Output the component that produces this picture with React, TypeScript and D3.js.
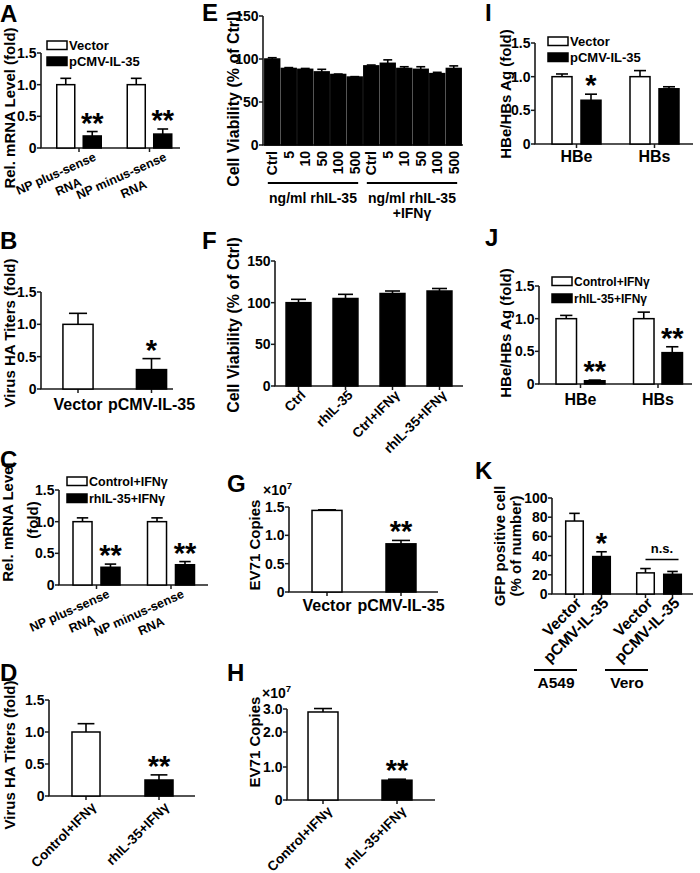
import React from "react";
import * as d3 from "d3";

const FONT = "'Liberation Sans', Arial, Helvetica, sans-serif";
const AX = "#1a1a1a";

// ===================== DATA =====================
// Panel A
const aCategories = [["NP plus-sense", "RNA"], ["NP minus-sense", "RNA"]];
const aSeries = ["Vector", "pCMV-IL-35"];
const aVector = [1.0, 1.0];
const aVectorErr = [0.1, 0.1];
const aIL35 = [0.19, 0.22];
const aIL35Err = [0.07, 0.08];
const aVectorStars = ["", ""];
const aIL35Stars = ["**", "**"];
const foldTicks = [0, 0.5, 1.0, 1.5];

// Panel B
const bCategories = ["Vector", "pCMV-IL-35"];
const bValues = [1.0, 0.3];
const bErrors = [0.17, 0.17];
const bStars = ["", "*"];

// Panel C
const cCategories = [["NP plus-sense", "RNA"], ["NP minus-sense", "RNA"]];
const cSeries = ["Control+IFNγ", "rhIL-35+IFNγ"];
const cControl = [1.0, 1.0];
const cControlErr = [0.06, 0.06];
const cIL35 = [0.28, 0.32];
const cIL35Err = [0.05, 0.05];
const cControlStars = ["", ""];
const cIL35Stars = ["**", "**"];

// Panel D
const dCategories = ["Control+IFNγ", "rhIL-35+IFNγ"];
const dValues = [1.0, 0.25];
const dErrors = [0.13, 0.08];
const dStars = ["", "**"];

// Panel E
const eDoses = ["Ctrl", "5", "10", "50", "100", "500"];
const eGroups = [["ng/ml rhIL-35"], ["ng/ml rhIL-35", "+IFNγ"]];
const eRhIL35 = [100, 89, 88, 85, 82, 79];
const eRhIL35Err = [1.5, 1, 1, 3, 0.5, 0.5];
const eRhIL35IFN = [92, 95, 89, 88, 83, 89];
const eRhIL35IFNErr = [1, 4, 2, 3, 1.5, 3];
const viabilityTicks = [0, 50, 100, 150];

// Panel F
const fCategories = ["Ctrl", "rhIL-35", "Ctrl+IFNγ", "rhIL-35+IFNγ"];
const fValues = [100, 105, 111, 114];
const fErrors = [4, 5, 3, 3];

// Panel G
const gCategories = ["Vector", "pCMV-IL-35"];
const gValues = [1.44, 0.85];
const gErrors = [0.01, 0.06];
const gStars = ["", "**"];
const gTicks = [0, 0.5, 1.0, 1.5];

// Panel H
const hCategories = ["Control+IFNγ", "rhIL-35+IFNγ"];
const hValues = [2.87, 0.6];
const hErrors = [0.15, 0.03];
const hStars = ["", "**"];
const hTicks = [0, 1.0, 2.0, 3.0];

// Panel I
const iCategories = ["HBe", "HBs"];
const iSeries = ["Vector", "pCMV-IL-35"];
const iVector = [1.0, 1.0];
const iVectorErr = [0.04, 0.09];
const iIL35 = [0.65, 0.82];
const iIL35Err = [0.09, 0.03];
const iVectorStars = ["", ""];
const iIL35Stars = ["*", ""];

// Panel J
const jCategories = ["HBe", "HBs"];
const jSeries = ["Control+IFNγ", "rhIL-35+IFNγ"];
const jControl = [1.0, 1.0];
const jControlErr = [0.05, 0.1];
const jIL35 = [0.05, 0.48];
const jIL35Err = [0.01, 0.09];
const jControlStars = ["", ""];
const jIL35Stars = ["**", "**"];

// Panel K
const kCells = ["A549", "Vero"];
const kSeries = ["Vector", "pCMV-IL-35"];
const kVector = [76, 22];
const kVectorErr = [8, 4.5];
const kIL35 = [39, 20.5];
const kIL35Err = [5, 3];
const kVectorStars = ["", ""];
const kIL35Stars = ["*", ""];
const kNote = "n.s.";
const kTicks = [0, 20, 40, 60, 80, 100];

// ===================== HELPERS =====================
type BarD = { cx: number; w: number; v: number; e: number; fill: string; star?: string };

let _ctx: CanvasRenderingContext2D | null = null;
function measure(text: string, size: number) {
  if (!_ctx && typeof document !== "undefined") _ctx = document.createElement("canvas").getContext("2d");
  if (!_ctx) return text.length * size * 0.6;
  _ctx.font = `bold ${size}px 'Liberation Sans'`;
  return _ctx.measureText(text).width;
}

function grouped(gs: any, ss: any, keys: string[], series: string[], vals: number[][], errs: number[][], fills: string[], stars: string[][]): BarD[] {
  const out: BarD[] = [];
  keys.forEach((k, gi) => {
    const gc = gs(k) + gs.bandwidth() / 2;
    series.forEach((s, si) => {
      out.push({ cx: gc + ss(s) + ss.bandwidth() / 2, w: ss.bandwidth(), v: vals[si][gi], e: errs[si][gi], fill: fills[si], star: stars[si][gi] });
    });
  });
  return out;
}

function simple(bs: any, keys: string[], vals: number[], errs: number[], fills: string[], stars?: string[]): BarD[] {
  return keys.map((k, i) => ({ cx: bs(k) + bs.bandwidth() / 2, w: bs.bandwidth(), v: vals[i], e: errs[i], fill: fills[i % fills.length], star: stars ? stars[i] : "" }));
}

const centers = (bs: any, keys: string[]) => keys.map((k) => bs(k) + bs.bandwidth() / 2);

function Axes({ x0, x1, y, ticks, fmt, xTicks, size = 14 }: any) {
  const y0 = y(0);
  const yTop = y(ticks[ticks.length - 1]);
  return (
    <g>
      <line x1={x0} x2={x0} y1={y0} y2={yTop} stroke={AX} strokeWidth={1.6} />
      <line x1={x0 - 0.8} x2={x1} y1={y0} y2={y0} stroke={AX} strokeWidth={1.6} />
      {ticks.map((t: number) => (
        <g key={t}>
          <line x1={x0 - 4} x2={x0} y1={y(t)} y2={y(t)} stroke={AX} strokeWidth={1.5} />
          <text x={x0 - 4.5} y={y(t) + 5} textAnchor="end" fontSize={size} fontWeight="bold">{fmt(t)}</text>
        </g>
      ))}
      {xTicks.map((xt: number, i: number) => (
        <line key={i} x1={xt} x2={xt} y1={y0} y2={y0 + 4} stroke={AX} strokeWidth={1.5} />
      ))}
    </g>
  );
}

function Bars({ bars, y }: { bars: BarD[]; y: any }) {
  const y0 = y(0);
  return (
    <g>
      {bars.map((b, i) => {
        const top = y(b.v);
        const et = y(b.v + b.e);
        return (
          <g key={i}>
            <line x1={b.cx} x2={b.cx} y1={top} y2={et} stroke="#000" strokeWidth={1.6} />
            <line x1={b.cx - b.w * 0.3} x2={b.cx + b.w * 0.3} y1={et} y2={et} stroke="#000" strokeWidth={1.6} />
            <rect x={b.cx - b.w / 2} y={top} width={b.w} height={y0 - top} fill={b.fill} stroke="#000" strokeWidth={1.5} />
            {b.star ? (
              <text x={b.cx} y={et + 1} textAnchor="middle" fontSize={29} fontWeight="bold">{b.star}</text>
            ) : null}
          </g>
        );
      })}
    </g>
  );
}

function Legend({ x, y, items, size, dy }: any) {
  return (
    <g>
      {items.map((it: string, i: number) => (
        <g key={it}>
          <rect x={x} y={y + i * dy} width={20} height={8.5} fill={i === 0 ? "#fff" : "#000"} stroke="#000" strokeWidth={1.5} />
          <text x={x + 22} y={y + i * dy + 9} fontSize={size} fontWeight="bold">{it}</text>
        </g>
      ))}
    </g>
  );
}

function YTitle({ x, y, text, size = 15 }: any) {
  return (
    <text transform={`translate(${x},${y}) rotate(-90)`} textAnchor="middle" fontSize={size} fontWeight="bold">{text}</text>
  );
}

function Letter({ x, y, t }: any) {
  return <text x={x} y={y} fontSize={24} fontWeight="bold">{t}</text>;
}

function TwoLineSlanted({ tick, axisY, lines, size = 12.5, angle = 24, dx = 14 }: any) {
  const a = (angle * Math.PI) / 180;
  const ex = tick + dx;
  const ey = axisY + 12;
  const len = measure(lines[0], size);
  const cx = ex - (len / 2) * Math.cos(a);
  const cy = ey + (len / 2) * Math.sin(a);
  return (
    <g transform={`translate(${cx},${cy}) rotate(${-angle})`} fontSize={size} fontWeight="bold">
      <text x={0} y={0} textAnchor="middle">{lines[0]}</text>
      <text x={6} y={17} textAnchor="middle">{lines[1]}</text>
    </g>
  );
}

function Slanted({ x, y, text, size = 13.5, angle = 45 }: any) {
  return (
    <text transform={`translate(${x},${y}) rotate(${-angle})`} textAnchor="end" fontSize={size} fontWeight="bold">{text}</text>
  );
}

// ===================== APP =====================
export default function App() {
  const fmtFold = (d: number) => (d === 0 ? "0" : d.toFixed(1));
  const fmtInt = (d: number) => String(d);
  const WB = ["#fff", "#000"];

  // ---- A ----
  const yA = d3.scaleLinear().domain([0, 1.5]).range([148, 53]);
  const aKeys = aCategories.map((c) => c.join(" "));
  const gA = d3.scaleBand<string>().domain(aKeys).range([43.75, 184.75]);
  const sA = d3.scaleBand<string>().domain(aSeries).range([-22.25, 22.25]).paddingInner(0.32);
  const barsA = grouped(gA, sA, aKeys, aSeries, [aVector, aIL35], [aVectorErr, aIL35Err], WB, [aVectorStars, aIL35Stars]);
  const tA = centers(gA, aKeys);

  // ---- B ----
  const yB = d3.scaleLinear().domain([0, 1.5]).range([389, 292]);
  const gB = d3.scaleBand<string>().domain(bCategories).range([41.25, 188.25]).paddingInner(0.59).paddingOuter(0.295);
  const barsB = simple(gB, bCategories, bValues, bErrors, WB, bStars);
  const tB = centers(gB, bCategories);

  // ---- C ----
  const yC = d3.scaleLinear().domain([0, 1.5]).range([585, 490]);
  const cKeys = cCategories.map((c) => c.join(" "));
  const gC = d3.scaleBand<string>().domain(cKeys).range([59.25, 208.25]);
  const sC = d3.scaleBand<string>().domain(cSeries).range([-23.5, 23.5]).paddingInner(0.32);
  const barsC = grouped(gC, sC, cKeys, cSeries, [cControl, cIL35], [cControlErr, cIL35Err], WB, [cControlStars, cIL35Stars]);
  const tC = centers(gC, cKeys);

  // ---- D ----
  const yD = d3.scaleLinear().domain([0, 1.5]).range([796, 700]);
  const gD = d3.scaleBand<string>().domain(dCategories).range([49.5, 195.5]).paddingInner(0.616).paddingOuter(0.308);
  const barsD = simple(gD, dCategories, dValues, dErrors, WB, dStars);
  const tD = centers(gD, dCategories);

  // ---- E ----
  const eLabels = [...eDoses, ...eDoses];
  const eKeys = eLabels.map((_, i) => String(i));
  const eVals = [...eRhIL35, ...eRhIL35IFN];
  const eErrs = [...eRhIL35Err, ...eRhIL35IFNErr];
  const yE = d3.scaleLinear().domain([0, 150]).range([145, 16]);
  const gE = d3.scaleBand<string>().domain(eKeys).range([264, 462]).paddingInner(0.1).paddingOuter(0.05);
  const barsE = simple(gE, eKeys, eVals, eErrs, ["#000"]);
  const tE = centers(gE, eKeys);
  const eSpans = [
    [gE("0")! + 3, gE("5")! + gE.bandwidth() - 4],
    [gE("6")! + 3, gE("11")! + gE.bandwidth() - 4],
  ];

  // ---- F ----
  const yF = d3.scaleLinear().domain([0, 150]).range([386, 261]);
  const gF = d3.scaleBand<string>().domain(fCategories).range([275, 463]).paddingInner(0.47).paddingOuter(0.235);
  const barsF = simple(gF, fCategories, fValues, fErrors, ["#000"]);
  const tF = centers(gF, fCategories);

  // ---- G ----
  const yG = d3.scaleLinear().domain([0, 1.5]).range([592, 507]);
  const gG = d3.scaleBand<string>().domain(gCategories).range([290, 438]).paddingInner(0.595).paddingOuter(0.2975);
  const barsG = simple(gG, gCategories, gValues, gErrors, WB, gStars);
  const tG = centers(gG, gCategories);

  // ---- H ---- (the original axis is unevenly spaced)
  const yH = d3.scaleLinear().domain([0, 1, 2, 3]).range([800, 767, 732, 709]);
  const gH = d3.scaleBand<string>().domain(hCategories).range([286, 434]).paddingInner(0.595).paddingOuter(0.2975);
  const barsH = simple(gH, hCategories, hValues, hErrors, WB, hStars);
  const tH = centers(gH, hCategories);

  // ---- I ----
  const yI = d3.scaleLinear().domain([0, 1.5]).range([144, 43]);
  const gI = d3.scaleBand<string>().domain(iCategories).range([537.5, 693.5]);
  const sI = d3.scaleBand<string>().domain(iSeries).range([-24.5, 24.5]).paddingInner(0.31);
  const barsI = grouped(gI, sI, iCategories, iSeries, [iVector, iIL35], [iVectorErr, iIL35Err], WB, [iVectorStars, iIL35Stars]);
  const tI = centers(gI, iCategories);

  // ---- J ----
  const yJ = d3.scaleLinear().domain([0, 1.5]).range([384, 286]);
  const gJ = d3.scaleBand<string>().domain(jCategories).range([541.75, 696.75]);
  const sJ = d3.scaleBand<string>().domain(jSeries).range([-24.5, 24.5]).paddingInner(0.28);
  const barsJ = grouped(gJ, sJ, jCategories, jSeries, [jControl, jIL35], [jControlErr, jIL35Err], WB, [jControlStars, jIL35Stars]);
  const tJ = centers(gJ, jCategories);

  // ---- K ----
  const yK = d3.scaleLinear().domain([0, 100]).range([594, 498]);
  const gK = d3.scaleBand<string>().domain(kCells).range([552.5, 694.5]);
  const sK = d3.scaleBand<string>().domain(kSeries).range([-22.3, 22.3]).paddingInner(0.35);
  const barsK = grouped(gK, sK, kCells, kSeries, [kVector, kIL35], [kVectorErr, kIL35Err], WB, [kVectorStars, kIL35Stars]);
  const kVero = barsK.slice(2, 4);
  const nsY = yK(Math.max(...kVero.map((b) => b.v + b.e))) - 9;
  const kCellCenters = centers(gK, kCells);

  return (
    <svg width={700} height={873} style={{ position: "absolute", left: 0, top: 0, background: "#fff" }} fontFamily={FONT} fill="#000">
      <rect x={0} y={0} width={700} height={873} fill="#fff" />

      {/* ===== A ===== */}
      <Letter x={0} y={22} t="A" />
      <YTitle x={15} y={108} text="Rel. mRNA Level (fold)" />
      <Axes x0={41} x1={180} y={yA} ticks={foldTicks} fmt={fmtFold} xTicks={tA} />
      <Bars bars={barsA} y={yA} />
      <Legend x={47} y={41} items={aSeries} size={13} dy={16} />
      {aCategories.map((c, i) => <TwoLineSlanted key={i} tick={tA[i]} axisY={yA(0)} lines={c} dx={18} />)}

      {/* ===== B ===== */}
      <Letter x={0} y={249} t="B" />
      <YTitle x={15} y={333} text="Virus HA Titers (fold)" />
      <Axes x0={41} x1={173} y={yB} ticks={foldTicks} fmt={fmtFold} xTicks={tB} />
      <Bars bars={barsB} y={yB} />
      {bCategories.map((c, i) => (
        <text key={c} x={tB[i]} y={410} textAnchor="middle" fontSize={16} fontWeight="bold">{c}</text>
      ))}

      {/* ===== C ===== */}
      <Letter x={0} y={468} t="C" />
      <YTitle x={12.5} y={522} text="Rel. mRNA Level" />
      <YTitle x={38} y={520} text="(fold)" />
      <Axes x0={59} x1={208} y={yC} ticks={foldTicks} fmt={fmtFold} xTicks={tC} />
      <Bars bars={barsC} y={yC} />
      <Legend x={67} y={477} items={cSeries} size={12.5} dy={17} />
      {cCategories.map((c, i) => <TwoLineSlanted key={i} tick={tC[i]} axisY={yC(0)} lines={c} />)}

      {/* ===== D ===== */}
      <Letter x={0} y={681} t="D" />
      <YTitle x={15} y={755} text="Virus HA Titers (fold)" />
      <Axes x0={49} x1={195} y={yD} ticks={foldTicks} fmt={fmtFold} xTicks={tD} />
      <Bars bars={barsD} y={yD} />
      {dCategories.map((c, i) => <Slanted key={c} x={tD[i] + 11} y={yD(0) + 12} text={c} />)}

      {/* ===== E ===== */}
      <Letter x={202} y={21} t="E" />
      <YTitle x={239} y={99} text="Cell Viability (% of Ctrl)" size={16} />
      <Axes x0={263} x1={463} y={yE} ticks={viabilityTicks} fmt={fmtInt} xTicks={[]} />
      <Bars bars={barsE} y={yE} />
      {eLabels.map((l, i) => (
        <text key={i} transform={`translate(${tE[i] + 5},${yE(0) + 6}) rotate(-90)`} textAnchor="end" fontSize={14} fontWeight="bold">{l}</text>
      ))}
      {eGroups.map((g, i) => (
        <g key={i}>
          <line x1={eSpans[i][0]} x2={eSpans[i][1]} y1={183} y2={183} stroke="#000" strokeWidth={2} />
          {g.map((line, j) => (
            <text key={j} x={(eSpans[i][0] + eSpans[i][1]) / 2} y={203 + j * 15} textAnchor="middle" fontSize={14} fontWeight="bold">{line}</text>
          ))}
        </g>
      ))}

      {/* ===== F ===== */}
      <Letter x={202} y={249} t="F" />
      <YTitle x={239} y={325} text="Cell Viability (% of Ctrl)" size={16} />
      <Axes x0={275} x1={463} y={yF} ticks={viabilityTicks} fmt={fmtInt} xTicks={tF} />
      <Bars bars={barsF} y={yF} />
      {fCategories.map((c, i) => <Slanted key={c} x={tF[i] + 8} y={yF(0) + 10} text={c} />)}

      {/* ===== G ===== */}
      <Letter x={227} y={492} t="G" />
      <text x={263} y={495} fontSize={14} fontWeight="bold">×10<tspan dy={-6} fontSize={9.5}>7</tspan></text>
      <YTitle x={260} y={545} text="EV71 Copies" />
      <Axes x0={289} x1={438} y={yG} ticks={gTicks} fmt={fmtFold} xTicks={tG} />
      <Bars bars={barsG} y={yG} />
      {gCategories.map((c, i) => (
        <text key={c} x={tG[i]} y={611} textAnchor="middle" fontSize={16} fontWeight="bold">{c}</text>
      ))}

      {/* ===== H ===== */}
      <Letter x={227} y={681} t="H" />
      <text x={262} y={698} fontSize={14} fontWeight="bold">×10<tspan dy={-6} fontSize={9.5}>7</tspan></text>
      <YTitle x={260} y={742} text="EV71 Copies" />
      <Axes x0={287} x1={435} y={yH} ticks={hTicks} fmt={fmtFold} xTicks={tH} />
      <Bars bars={barsH} y={yH} />
      {hCategories.map((c, i) => <Slanted key={c} x={tH[i] + 10} y={yH(0) + 12} text={c} />)}

      {/* ===== I ===== */}
      <Letter x={485} y={21} t="I" />
      <YTitle x={511} y={94} text="HBe/HBs Ag (fold)" />
      <Axes x0={535} x1={693} y={yI} ticks={foldTicks} fmt={fmtFold} xTicks={tI} />
      <Bars bars={barsI} y={yI} />
      <Legend x={548} y={37} items={iSeries} size={13} dy={16} />
      {iCategories.map((c, i) => (
        <text key={c} x={tI[i]} y={162} textAnchor="middle" fontSize={16} fontWeight="bold">{c}</text>
      ))}

      {/* ===== J ===== */}
      <Letter x={485} y={246} t="J" />
      <YTitle x={511} y={333} text="HBe/HBs Ag (fold)" />
      <Axes x0={539} x1={692} y={yJ} ticks={foldTicks} fmt={fmtFold} xTicks={tJ} />
      <Bars bars={barsJ} y={yJ} />
      <Legend x={552} y={277} items={jSeries} size={12} dy={17} />
      {jCategories.map((c, i) => (
        <text key={c} x={tJ[i]} y={405} textAnchor="middle" fontSize={16} fontWeight="bold">{c}</text>
      ))}

      {/* ===== K ===== */}
      <Letter x={475} y={479} t="K" />
      <YTitle x={505} y={546} text="GFP positive cell" size={15} />
      <YTitle x={521} y={546} text="(% of number)" size={15} />
      <Axes x0={552} x1={693} y={yK} ticks={kTicks} fmt={fmtInt} xTicks={barsK.map((b) => b.cx)} />
      <Bars bars={barsK} y={yK} />
      <line x1={kVero[0].cx} x2={kVero[1].cx + 6} y1={nsY} y2={nsY} stroke="#000" strokeWidth={1.6} />
      <text x={(kVero[0].cx + kVero[1].cx + 6) / 2} y={nsY - 7} textAnchor="middle" fontSize={13} fontWeight="bold">{kNote}</text>
      {barsK.map((b, i) => <Slanted key={i} x={b.cx + 8} y={yK(0) + 10} text={kSeries[i % 2]} size={15.5} />)}
      {kCells.map((c, i) => (
        <g key={c}>
          <line x1={kCellCenters[i] - 54} x2={kCellCenters[i] - 11} y1={670} y2={670} stroke="#000" strokeWidth={2} />
          <text x={kCellCenters[i] - 32} y={688} textAnchor="middle" fontSize={15.5} fontWeight="bold">{c}</text>
        </g>
      ))}
    </svg>
  );
}
